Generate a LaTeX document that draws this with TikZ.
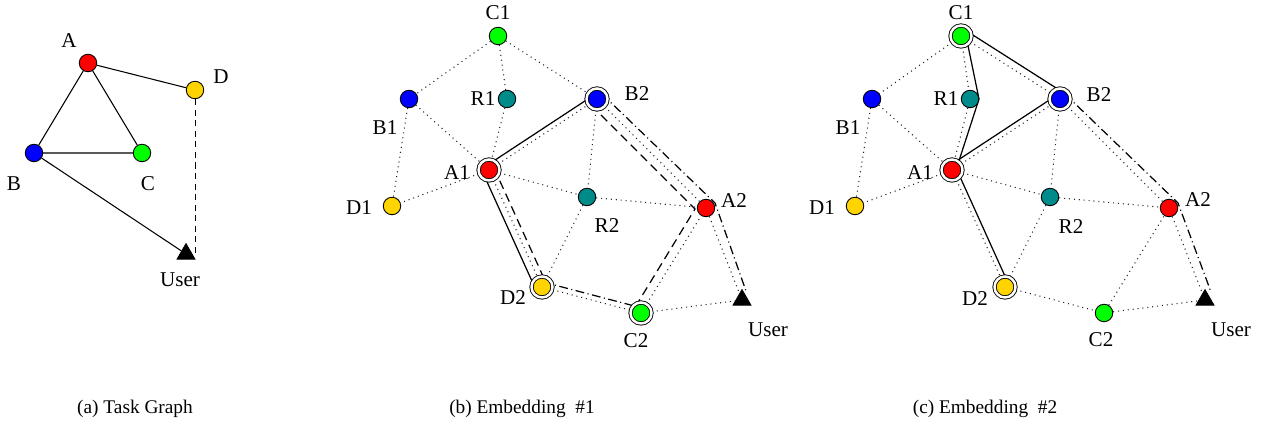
\documentclass[tikz,border=0pt]{standalone}
\usepackage{fontspec}
\setmainfont{Liberation Serif}
\usetikzlibrary{shapes.geometric,backgrounds}

\definecolor{nred}{RGB}{255,0,0}
\definecolor{nblue}{RGB}{0,0,255}
\definecolor{ngreen}{RGB}{0,255,0}
\definecolor{nyellow}{RGB}{255,212,0}
\definecolor{nteal}{RGB}{0,139,139}

\tikzset{
  dev/.style={circle, draw, fill=#1, inner sep=0pt, minimum size=0.35cm, line width=0.5pt},
  used/.style={double, double distance=1.4pt, minimum size=0.42cm},
  user/.style={regular polygon, regular polygon sides=3, draw, fill=black, inner sep=0pt, minimum size=0.42cm},
  lbl/.style={inner sep=0pt, font=\fontsize{12}{14}\selectfont},
  subcap/.style={inner sep=0pt, font=\fontsize{11}{13}\selectfont},
  tedge/.style={line width=0.6pt},
  link/.style={line width=0.6pt, dash pattern=on 0.6pt off 2.2pt, black!85},
  solidroute/.style={line width=0.7pt},
  dashroute/.style={line width=0.7pt, dash pattern=on 5pt off 3pt},
  dotdashroute/.style={line width=0.7pt, dash pattern=on 5pt off 2pt on 0.6pt off 2pt},
}

\begin{document}
\begin{tikzpicture}[x=0.02cm, y=-0.02cm]
\useasboundingbox (0,0) rectangle (1261,431);

% (a) task graph
\node[dev=nred] (A) at (88,63) {};
\node[dev=nyellow] (D) at (195,90) {};
\node[dev=nblue] (B) at (34,153) {};
\node[dev=ngreen] (C) at (142,153) {};
\node[user] (U) at (186,254) {};
\node[lbl] (A-l) at (69,41) {A};
\node[lbl] (D-l) at (221,77) {D};
\node[lbl] (B-l) at (14,184) {B};
\node[lbl] (C-l) at (148,184) {C};
\node[lbl] (U-l) at (180,280) {User};
\draw[tedge] (A) -- (B) (A) -- (C) (A) -- (D) (B) -- (C) (B) -- (U);
\draw[line width=0.5pt, dash pattern=on 3.5pt off 2.5pt] (D) -- (D |- U.center);

% (b) embedding #1
\begin{scope}[name prefix=b-]
\node[dev=ngreen] (C1) at (498,36) {};
\node[dev=nblue] (B1) at (409,99) {};
\node[dev=nteal] (R1) at (507,99) {};
\node[dev=nblue, used] (B2) at (597,99) {};
\node[dev=nred, used] (A1) at (489,170) {};
\node[dev=nyellow] (D1) at (392,206) {};
\node[dev=nteal] (R2) at (587,197) {};
\node[dev=nred] (A2) at (706,208) {};
\node[dev=nyellow, used] (D2) at (542,287) {};
\node[dev=ngreen, used] (C2) at (641,313) {};
\node[user] (U) at (742,300) {};
\node[lbl] (C1-l) at (498,13) {C1};
\node[lbl] (B1-l) at (385,128) {B1};
\node[lbl] (R1-l) at (483,99) {R1};
\node[lbl] (B2-l) at (637,94) {B2};
\node[lbl] (A1-l) at (457,173) {A1};
\node[lbl] (D1-l) at (359,208) {D1};
\node[lbl] (R2-l) at (607,226) {R2};
\node[lbl] (A2-l) at (734,201) {A2};
\node[lbl] (D2-l) at (513,298) {D2};
\node[lbl] (C2-l) at (636,341) {C2};
\node[lbl] (U-l) at (768,330) {User};
\begin{scope}[on background layer]
\foreach \u/\v in {C1/B1, C1/R1, C1/B2, B1/A1, B1/D1, R1/A1, A1/D1, A1/B2, A1/R2,
    A1/D2, B2/R2, B2/A2, R2/A2, R2/D2, D2/C2, C2/A2, C2/U, A2/U}
  \draw[link] (\u) -- (\v);
\draw[solidroute] ([shift={(-3,-4)}]A1.center) -- ([shift={(-3,-4)}]B2.center);
\draw[solidroute] ([shift={(-6,3)}]A1.center) -- ([shift={(-6,3)}]D2.center);
\draw[dashroute] ([shift={(5,-2)}]A1.center) -- ([shift={(5,-2)}]D2.center);
\draw[dashroute] ([shift={(-6,6)}]B2.center) -- ([shift={(-11,1)}]A2.center)
  -- ([shift={(-7,-4)}]C2.center);
\draw[dotdashroute] ([shift={(5,-5)}]B2.center) -- ([shift={(9,-5)}]A2.center)
  -- ([shift={(4,-9)}]U.center);
\draw[dotdashroute] ([shift={(1,-5)}]D2.center) -- ([shift={(1,-5)}]C2.center);
\end{scope}
\end{scope}

% (c) embedding #2
\begin{scope}[shift={(463,0)}, name prefix=c-]
\node[dev=ngreen, used] (C1) at (498,36) {};
\node[dev=nblue] (B1) at (409,99) {};
\node[dev=nteal] (R1) at (507,99) {};
\node[dev=nblue, used] (B2) at (597,99) {};
\node[dev=nred, used] (A1) at (489,170) {};
\node[dev=nyellow] (D1) at (392,206) {};
\node[dev=nteal] (R2) at (587,197) {};
\node[dev=nred] (A2) at (706,208) {};
\node[dev=nyellow, used] (D2) at (542,287) {};
\node[dev=ngreen] (C2) at (641,313) {};
\node[user] (U) at (742,300) {};
\node[lbl] (C1-l) at (498,13) {C1};
\node[lbl] (B1-l) at (385,128) {B1};
\node[lbl] (R1-l) at (483,99) {R1};
\node[lbl] (B2-l) at (636,95) {B2};
\node[lbl] (A1-l) at (457,173) {A1};
\node[lbl] (D1-l) at (359,208) {D1};
\node[lbl] (R2-l) at (608,227) {R2};
\node[lbl] (A2-l) at (735,200) {A2};
\node[lbl] (D2-l) at (512,299) {D2};
\node[lbl] (C2-l) at (638,340) {C2};
\node[lbl] (U-l) at (768,330) {User};
\begin{scope}[on background layer]
\foreach \u/\v in {C1/B1, C1/R1, C1/B2, B1/A1, B1/D1, R1/A1, A1/D1, A1/B2, A1/R2,
    A1/D2, B2/R2, B2/A2, R2/A2, R2/D2, D2/C2, C2/A2, C2/U, A2/U}
  \draw[link] (\u) -- (\v);
\draw[solidroute] ([shift={(5,0)}]C1.center) -- ([shift={(9,0)}]R1.center)
  -- ([shift={(4,0)}]A1.center);
\draw[solidroute] ([shift={(4,-6)}]C1.center) -- ([shift={(4,-6)}]B2.center);
\draw[solidroute] ([shift={(-3,-4)}]A1.center) -- ([shift={(-3,-4)}]B2.center);
\draw[solidroute] ([shift={(4,-2)}]A1.center) -- ([shift={(4,-2)}]D2.center);
\draw[dotdashroute] ([shift={(5,-5)}]B2.center) -- ([shift={(9,-5)}]A2.center)
  -- ([shift={(6,-8)}]U.center);
\end{scope}
\end{scope}

% captions
\node[subcap] (cap-a) at (135,409) {(a) Task Graph};
\node[subcap] (cap-b) at (522,409) {(b) Embedding \ \#1};
\node[subcap] (cap-c) at (985,409) {(c) Embedding \ \#2};
\end{tikzpicture}
\end{document}
